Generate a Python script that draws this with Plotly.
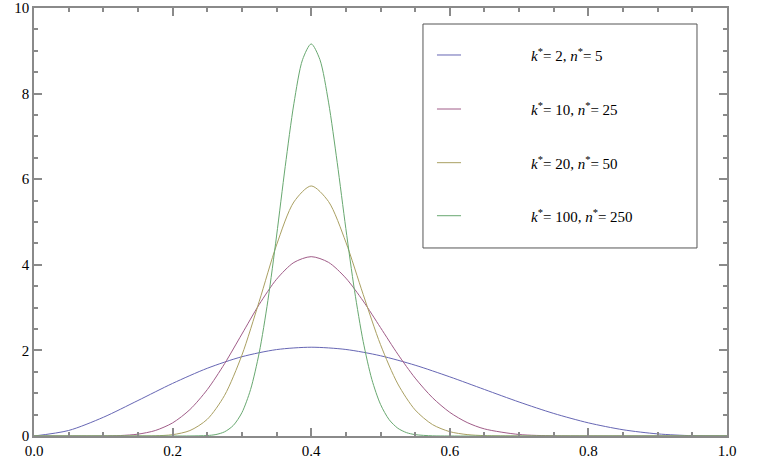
import plotly.graph_objects as go

# ---- data ----
x_wide = [0.0, 0.05, 0.1, 0.15, 0.2, 0.25, 0.3, 0.35, 0.4, 0.45, 0.5, 0.55,
          0.6, 0.65, 0.7, 0.75, 0.8, 0.85, 0.9, 0.95, 1.0]
y_k2 = [0.0, 0.129, 0.437, 0.829, 1.229, 1.582, 1.852, 2.019, 2.074, 2.022, 1.875,
        1.654, 1.382, 1.087, 0.794, 0.527, 0.307, 0.146, 0.049, 0.007, 0.0]

x_k10 = [0.0, 0.05, 0.1, 0.125, 0.15, 0.175, 0.2, 0.225, 0.25, 0.275, 0.3, 0.325,
         0.35, 0.375, 0.4, 0.425, 0.45, 0.475, 0.5, 0.525, 0.55, 0.575, 0.6,
         0.625, 0.65, 0.7, 0.75, 0.8, 0.9, 1.0]
y_k10 = [0.0, 0.0, 0.002, 0.011, 0.043, 0.128, 0.306, 0.618, 1.083, 1.690, 2.382,
         3.074, 3.662, 4.054, 4.190, 4.057, 3.689, 3.153, 2.533, 1.911, 1.353,
         0.895, 0.552, 0.315, 0.166, 0.035, 0.005, 0.0, 0.0, 0.0]

x_k20 = [0.0, 0.1, 0.15, 0.175, 0.2, 0.225, 0.25, 0.275, 0.3, 0.325, 0.35, 0.375,
         0.4, 0.425, 0.45, 0.475, 0.5, 0.525, 0.55, 0.575, 0.6, 0.625, 0.65,
         0.7, 0.8, 1.0]
y_k20 = [0.0, 0.0, 0.001, 0.005, 0.031, 0.127, 0.390, 0.950, 1.889, 3.145, 4.463,
         5.468, 5.842, 5.478, 4.529, 3.307, 2.135, 1.216, 0.609, 0.267, 0.101,
         0.033, 0.009, 0.0, 0.0, 0.0]

x_k100 = [0.0, 0.2, 0.225, 0.25, 0.2625, 0.275, 0.2875, 0.3, 0.3125, 0.325, 0.3375,
          0.35, 0.3625, 0.375, 0.3875, 0.4, 0.4125, 0.425, 0.4375, 0.45, 0.4625,
          0.475, 0.4875, 0.5, 0.5125, 0.525, 0.5375, 0.55, 0.575, 0.6, 1.0]
y_k100 = [0.0, 0.0, 0.001, 0.011, 0.034, 0.098, 0.245, 0.545, 1.085, 1.948, 3.164,
          4.672, 6.295, 7.764, 8.792, 9.160, 8.797, 7.800, 6.392, 4.846, 3.400,
          2.209, 1.322, 0.739, 0.381, 0.181, 0.079, 0.032, 0.004, 0.0, 0.0]

series_names = ["<i>k</i><sup>*</sup>= 2, <i>n</i><sup>*</sup>= 5",
                "<i>k</i><sup>*</sup>= 10, <i>n</i><sup>*</sup>= 25",
                "<i>k</i><sup>*</sup>= 20, <i>n</i><sup>*</sup>= 50",
                "<i>k</i><sup>*</sup>= 100, <i>n</i><sup>*</sup>= 250"]
colors = ["#6666b4", "#a05c88", "#aaa062", "#68a870"]

x_ticks = [0.0, 0.2, 0.4, 0.6, 0.8, 1.0]
y_ticks = [0, 2, 4, 6, 8, 10]

FONT = "Liberation Serif, Times New Roman, serif"

fig = go.Figure()
for xs, ys, col in [(x_wide, y_k2, colors[0]), (x_k10, y_k10, colors[1]),
                    (x_k20, y_k20, colors[2]), (x_k100, y_k100, colors[3])]:
    fig.add_trace(go.Scatter(x=xs, y=ys, mode="lines",
                             line=dict(color=col, width=1, shape="spline", smoothing=0.8),
                             showlegend=False, hoverinfo="skip"))

axis_common = dict(showgrid=False, zeroline=False, showline=True, mirror="ticks",
                   linecolor="#8a8a8a", linewidth=1.5, ticks="inside",
                   tickcolor="#8a8a8a", tickwidth=1.5, ticklen=8, automargin=False,
                   tickfont=dict(family=FONT, size=15, color="black"))

fig.update_xaxes(range=[0, 1], tickvals=x_ticks,
                 ticktext=[f"{v:.1f}" for v in x_ticks],
                 minor=dict(ticks="inside", dtick=0.05, ticklen=4,
                            tickcolor="#8a8a8a", tickwidth=1.5),
                 **axis_common)
fig.update_yaxes(range=[0, 10], tickvals=y_ticks,
                 ticktext=[str(v) for v in y_ticks],
                 minor=dict(ticks="inside", dtick=0.5, ticklen=4,
                            tickcolor="#8a8a8a", tickwidth=1.5),
                 **axis_common)

# legend box drawn in paper coordinates
fig.add_shape(type="rect", xref="paper", yref="paper",
              x0=0.5613, x1=0.9567, y0=0.4393, y1=0.9626,
              line=dict(color="#555555", width=1), fillcolor="white", layer="above")
row_y = [0.8902, 0.7640, 0.6386, 0.5147]
for name, col, yy in zip(series_names, colors, row_y):
    fig.add_shape(type="line", xref="paper", yref="paper",
                  x0=0.5815, x1=0.6162, y0=yy, y1=yy,
                  line=dict(color=col, width=1), layer="above")
    fig.add_annotation(xref="paper", yref="paper", x=0.7143, y=yy,
                       xanchor="left", yanchor="middle", showarrow=False,
                       text=name, font=dict(family=FONT, size=15, color="black"))

fig.update_layout(width=758, height=472,
                  margin=dict(l=34, r=31, t=8, b=36, autoexpand=False),
                  plot_bgcolor="white", paper_bgcolor="white",
                  font=dict(family=FONT))

fig.write_html("out.html", config={"displayModeBar": False},
               post_script="document.body.style.margin='0';document.body.style.overflow='hidden';")
